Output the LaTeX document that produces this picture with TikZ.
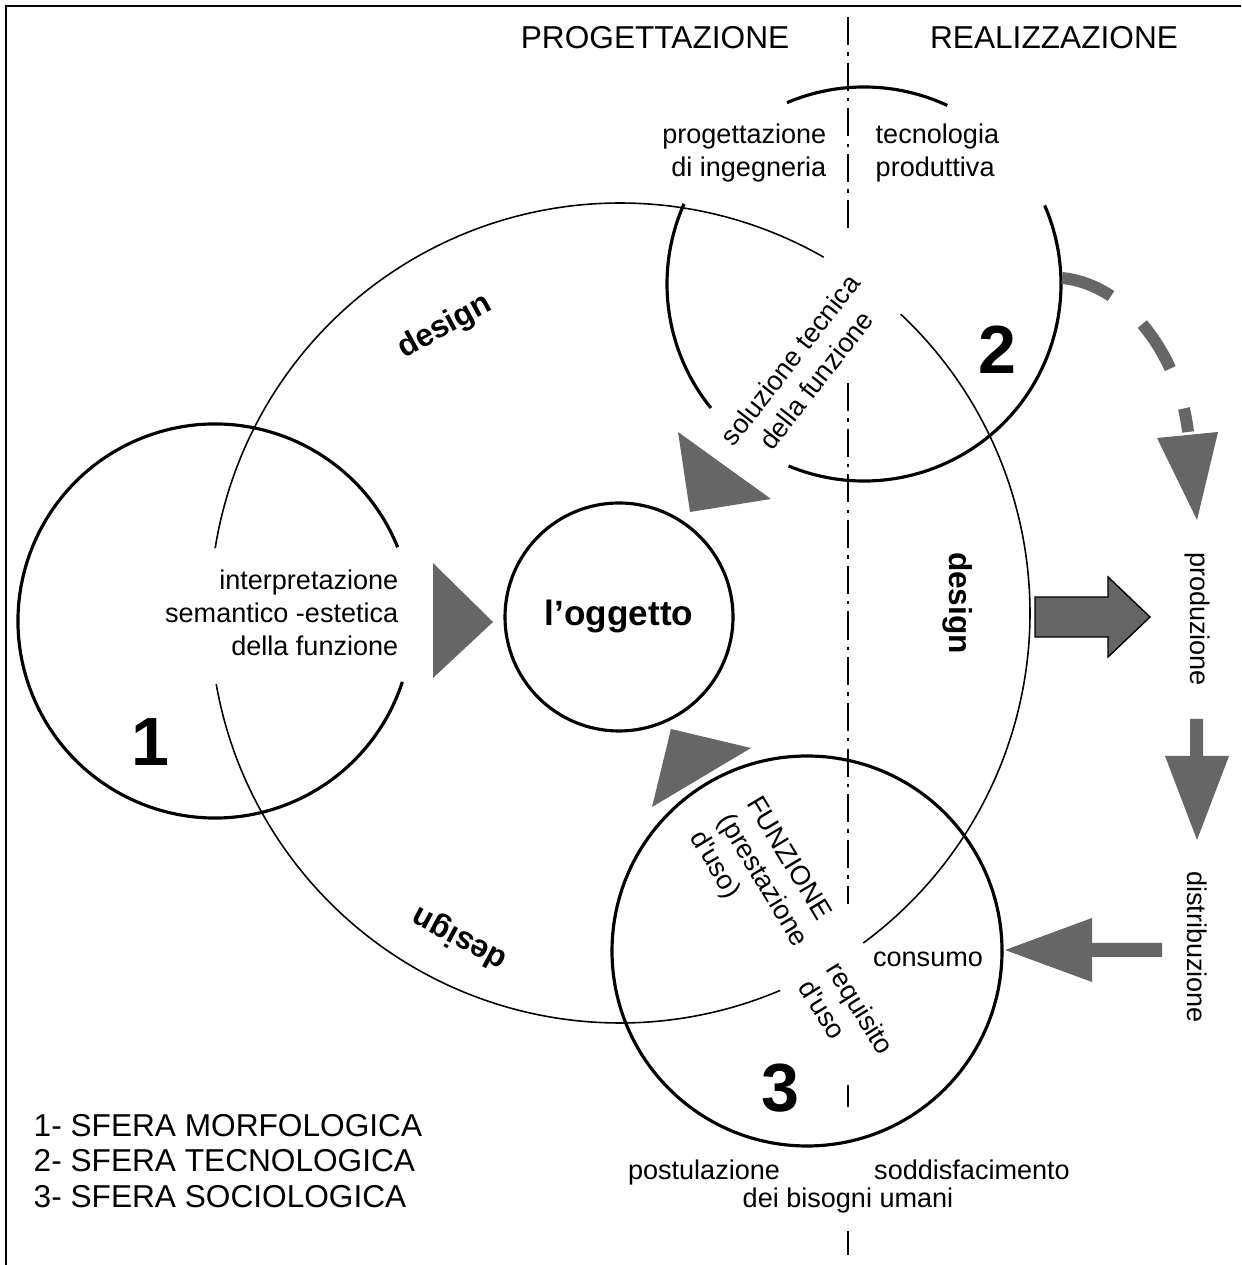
\documentclass[tikz,border=0pt]{standalone}
\usepackage{fontspec}
\setmainfont{Liberation Sans}
\usepackage{xcolor}
\usepackage{tikz}
\usetikzlibrary{calc,positioning}

\definecolor{frecciagrigia}{RGB}{102,102,102}

\tikzset{
  sfera/.style={line width=0.9pt},
  lineadesign/.style={line width=0.45pt},
  freccia/.style={fill=frecciagrigia, draw=none},
  asse/.style={line width=0.6pt, dash pattern=on 8pt off 2pt on 1pt off 2pt},
  testo/.style={font=\fontsize{7.7}{9.4}\selectfont, inner sep=0pt},
  titolo/.style={font=\fontsize{9}{10.2}\selectfont, inner sep=0pt},
  design/.style={font=\fontsize{9}{10}\selectfont\bfseries, inner sep=0pt},
  numero/.style={font=\fontsize{19.4}{22}\selectfont\bfseries, inner sep=0pt}
}

\begin{document}
\begin{tikzpicture}

\useasboundingbox (0,0) rectangle (12.41,12.65);

  \draw[line width=0.5pt] (0.06,0) -- (0.06,12.59) -- (12.41,12.59);

  % asse
  \draw[asse] (8.48,12.48) -- (8.48,10.35);
  \draw[asse] (8.48,8.82) -- (8.48,3.61);
  \draw[asse] (8.48,1.80) -- (8.48,1.58);
  \draw[asse] (8.48,0.34) -- (8.48,0.10);

  \coordinate (c1) at (2.15,6.44);
  \coordinate (c2) at (8.64,9.81);
  \coordinate (c3) at (8.07,3.14);
  \coordinate (cd) at (6.20,6.52);

  % sfere
  \draw[sfera] ($(c1)+(22:1.97)$) arc[start angle=22, end angle=342, radius=1.97];
  \draw[sfera] ($(c2)+(65:1.97)$) arc[start angle=65, end angle=113, radius=1.97];
  \draw[sfera] ($(c2)+(156:1.97)$) arc[start angle=156, end angle=219, radius=1.97];
  \draw[sfera] ($(c2)+(247.5:1.97)$) arc[start angle=247.5, end angle=383.5, radius=1.97];
  \draw[sfera] (c3) circle (1.95);

    \draw[lineadesign] ($(cd)+(60.2:4.1)$) arc[start angle=60.2, end angle=170.9, radius=4.1];
    \draw[lineadesign] ($(cd)+(190:4.1)$) arc[start angle=190, end angle=293, radius=4.1];
    \draw[lineadesign] ($(cd)+(-53.6:4.1)$) arc[start angle=-53.6, end angle=46.8, radius=4.1];

  \node[sfera, draw, circle, minimum size=2.28cm, inner sep=0pt,
        font=\fontsize{10}{12}\selectfont\bfseries] (oggetto) at (6.19,6.48) {l'oggetto};

  % triangoli verso l'oggetto
  \fill[freccia] (4.33,7.02) -- (4.33,5.87) -- (4.93,6.43) -- cycle;
  \fill[freccia] (6.78,8.33) -- (6.90,7.53) -- (7.71,7.66) -- cycle;
  \fill[freccia] (6.71,5.36) -- (6.52,4.58) -- (7.51,5.17) -- cycle;

  % frecce a destra
  \coordinate (prodstart) at (10.62,9.87);
  \coordinate (prodend) at (11.88,8.33);
  \draw[frecciagrigia, line width=3.4pt, dash pattern=on 15pt off 12pt]
        (prodstart) .. controls (11.30,9.80) and (11.80,9.05) .. (prodend);
  \fill[freccia] (11.57,8.27) -- (12.18,8.33) -- (11.97,7.45) -- cycle;

  \filldraw[freccia, draw=black, line width=0.4pt] (10.35,6.68) -- (11.08,6.68) -- (11.08,6.88)
        -- (11.50,6.48) -- (11.08,6.08) -- (11.08,6.28) -- (10.35,6.28) -- cycle;
  \fill[freccia] (11.90,5.46) -- (12.03,5.46) -- (12.03,5.09) -- (12.29,5.09)
        -- (11.97,4.25) -- (11.65,5.09) -- (11.90,5.09) -- cycle;
  \fill[freccia] (11.62,3.22) -- (10.92,3.22) -- (10.92,3.47) -- (10.05,3.15)
        -- (10.92,2.83) -- (10.92,3.08) -- (11.62,3.08) -- cycle;

  % testi
  \node[titolo] (prog) at (6.55,12.27) {PROGETTAZIONE};
  \node[titolo] (real) at (10.54,12.27) {REALIZZAZIONE};

  \node[testo, anchor=east, align=right] (ingegneria) at (8.27,11.12) {progettazione\\di ingegneria};
  \node[testo, anchor=west, align=left] (tecnologia) at (8.75,11.12) {tecnologia\\produttiva};
  \node[testo, anchor=east, align=right] (interpretazione) at (3.99,6.52)
        {interpretazione\\semantico -estetica\\della funzione};
  \node[testo, rotate=52, align=center] (soluzione) at (8.03,8.95) {soluzione tecnica\\della funzione};
  \node[testo, rotate=-59, align=left] (funzione) at (7.62,3.84)
        {FUNZIONE\\(prestazione\\d\textquotesingle uso)};
  \node[testo, rotate=-58, align=left] (requisito) at (8.47,2.48) {requisito\\d\textquotesingle uso};
  \node[testo] (consumo) at (9.28,3.06) {consumo};

  \node[testo] (bisogni) at (8.48,0.64) {dei bisogni umani};
  \node[testo, anchor=base] (postulazione) at (7.04,0.855) {postulazione};
  \node[testo, anchor=base] (soddisfacimento) at (9.72,0.855) {soddisfacimento};

  \node[testo, rotate=-90] (produzione) at (11.97,6.46) {produzione};
  \node[testo, rotate=-90] (distribuzione) at (11.97,3.18) {distribuzione};

  \node[design, rotate=28.6] (design1) at (4.45,9.38) {design};
  \node[design, rotate=-90] (design2) at (9.58,6.62) {design};
  \node[design, rotate=152] (design3) at (4.60,3.27) {design};

  \node[numero] (uno) at (1.50,5.23) {1};
  \node[numero] (due) at (9.97,9.15) {2};
  \node[numero] (tre) at (7.80,1.77) {3};

  \node[titolo, anchor=west, align=left] (legenda) at (0.33,1.04)
        {1- SFERA MORFOLOGICA\\2- SFERA TECNOLOGICA\\3- SFERA SOCIOLOGICA};

\end{tikzpicture}
\end{document}
